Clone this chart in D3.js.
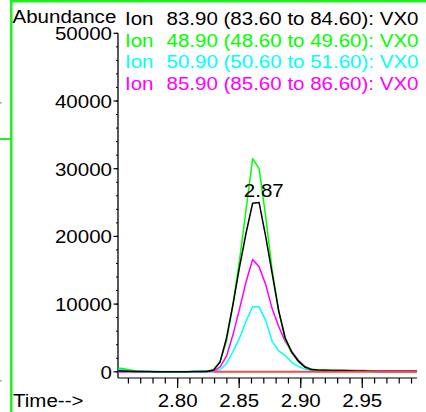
<!DOCTYPE html>
<html><head><meta charset="utf-8">
<script src="https://cdn.jsdelivr.net/npm/d3@7"></script>
<style>
html,body{margin:0;padding:0;background:#fff;overflow:hidden}
svg{display:block;font-family:"Liberation Sans",Arial,sans-serif}
</style></head>
<body>
<svg id="c" width="426" height="412"></svg>
<script>
// ---- data ----
const times = [2.7496,2.7549,2.7602,2.7655,2.7708,2.7761,2.7814,2.7867,2.7920,2.7973,
  2.8026,2.8079,2.8132,2.8185,2.8238,2.8291,2.8344,2.8397,2.8450,2.8503,
  2.8556,2.8609,2.8662,2.8715,2.8768,2.8821,2.8874,2.8927,2.8980,2.9033,
  2.9086,2.9139,2.9192,2.9245,2.9298,2.9351,2.9404,2.9457,2.9510,2.9563,
  2.9616,2.9669,2.9722,2.9775,2.9828,2.9881,2.9934,2.9987];
const ion839 = [150,120,90,60,40,30,20,20,20,20,
  20,20,30,40,60,250,1400,5000,10000,15500,
  20500,24900,25000,20000,14500,9000,5000,2900,1600,700,
  350,250,220,200,200,180,150,120,100,80,
  60,50,40,40,30,30,30,30];
const ion489 = [600,500,300,150,80,50,30,20,20,20,
  20,20,30,40,80,300,1500,4500,10000,16500,
  24000,31500,30000,23000,15000,9000,4800,2800,1500,700,
  400,280,250,230,220,200,180,150,120,100,
  80,60,50,40,40,30,30,30];
const ion509 = [350,300,200,120,80,50,40,30,30,30,
  30,40,60,120,150,150,300,1200,3000,5000,
  7500,9600,9600,7600,4500,3100,2400,1400,800,400,
  220,200,180,170,160,150,150,120,100,80,
  60,50,40,40,30,30,30,30];
const ion859 = [0,0,0,0,0,0,0,0,0,0,
  0,0,0,0,30,150,700,2300,5500,9300,
  13300,16600,15500,12900,9300,6700,4500,3000,1700,800,
  350,250,220,200,200,200,200,190,180,170,
  170,160,160,160,150,150,150,150];
const ionRed = [null,null,null,null,null,null,null,null,null,null,
  null,null,null,null,null,0,0,0,0,0,
  0,0,0,0,0,0,0,0,0,0,
  0,0,0,0,0,0,0,0,0,0,
  0,0,0,0,0,0,0,0];
const ionViolet = [0,0,0,0,0,0,0,0,0,0,
  0,0,0,0,0,0,null,null,null,null,
  null,null,null,null,null,null,null,null,null,null,
  null,null,null,null,null,null,null,null,150,150,
  150,150,150,150,150,150,150,150];
const yTicks = [0,10000,20000,30000,40000,50000];
const xTicks = [2.80,2.85,2.90,2.95];
const legend = [
  {ion:"Ion", text:"83.90 (83.60 to 84.60): VX0", color:"#000000"},
  {ion:"Ion", text:"48.90 (48.60 to 49.60): VX0", color:"#00ff00"},
  {ion:"Ion", text:"50.90 (50.60 to 51.60): VX0", color:"#00ffff"},
  {ion:"Ion", text:"85.90 (85.60 to 86.60): VX0", color:"#ff00ff"}
];
const peakLabel = {time:2.87, value:25000, text:"2.87"};

// ---- chart ----
const svg = d3.select("#c");
const FS = 19, SX = 1.08;
const x = d3.scaleLinear().domain([2.7518, 2.9942]).range([118.3, 416.7]);
const y = d3.scaleLinear().domain([0, 50000]).range([371.8, 33.3]);
const place = (px,py)=>`translate(${px},${py}) scale(${SX},1)`;

// frame decorations
svg.append("line").attr("x1",11.3).attr("x2",11.3).attr("y1",0).attr("y2",412).attr("stroke","#22ee22").attr("stroke-width",2.5);
svg.append("line").attr("x1",10).attr("x2",426).attr("y1",1.3).attr("y2",1.3).attr("stroke","#22ee22").attr("stroke-width",2.5);
svg.append("line").attr("x1",0).attr("x2",11).attr("y1",139).attr("y2",139).attr("stroke","#22ee22").attr("stroke-width",2);
svg.append("rect").attr("x",0).attr("y",102).attr("width",1.5).attr("height",1.5).attr("fill","#999");
svg.append("rect").attr("x",0).attr("y",380).attr("width",1.5).attr("height",1.5).attr("fill","#999");

// y axis
const yMinor = d3.range(0, 50001, 2000);
const ga = svg.append("g");
ga.append("line").attr("x1",118).attr("x2",118).attr("y1",y(50000)).attr("y2",378).attr("stroke","#000").attr("stroke-width",1.3);
ga.selectAll(".ymin").data(yMinor).join("line").attr("x1",116).attr("x2",118).attr("y1",d=>y(d)).attr("y2",d=>y(d)).attr("stroke","#000").attr("stroke-width",1);
ga.selectAll(".ymaj").data(yTicks).join("line").attr("x1",113.5).attr("x2",118).attr("y1",d=>y(d)).attr("y2",d=>y(d)).attr("stroke","#000").attr("stroke-width",1.2);
ga.selectAll(".ylab").data(yTicks).join("text").attr("transform",d=>place(112,y(d))).attr("dy","0.36em")
  .attr("text-anchor","end").attr("font-size",FS).text(d=>d);

// x axis
const xMinor = d3.range(2.76, 2.995, 0.01);
ga.append("line").attr("x1",118).attr("x2",417).attr("y1",378).attr("y2",378).attr("stroke","#000").attr("stroke-width",1.2);
ga.selectAll(".xmin").data(xMinor).join("line").attr("x1",d=>x(d)).attr("x2",d=>x(d)).attr("y1",378).attr("y2",383.5).attr("stroke","#000").attr("stroke-width",1.2);
ga.selectAll(".xmaj").data(xTicks).join("line").attr("x1",d=>x(d)).attr("x2",d=>x(d)).attr("y1",378).attr("y2",388).attr("stroke","#000").attr("stroke-width",1.2);
ga.selectAll(".xlab").data(xTicks).join("text").attr("transform",d=>place(x(d),406.5))
  .attr("text-anchor","middle").attr("font-size",FS).text(d=>d.toFixed(2));

svg.append("text").attr("transform",place(13,406.5)).attr("font-size",FS).text("Time-->");
svg.append("text").attr("transform",place(12.5,22.7)).attr("font-size",FS).text("Abundance");

// legend
const lg = svg.selectAll(".lg").data(legend).join("g");
lg.append("text").attr("transform",(d,i)=>place(125,25+i*21.7)).attr("font-size",FS).attr("fill",d=>d.color).text(d=>d.ion);
lg.append("text").attr("transform",(d,i)=>place(166.5,25+i*21.7)).attr("font-size",FS).attr("fill",d=>d.color).text(d=>d.text);

// series
svg.append("clipPath").attr("id","cp").append("rect").attr("x",118.3).attr("y",0).attr("width",416.7-118.3).attr("height",380);
const plot = svg.append("g").attr("clip-path","url(#cp)");
const line = d3.line().defined(d=>d[1]!==null).x(d=>x(d[0])).y(d=>y(d[1]));
const series = [
  {vals:ionViolet, color:"#9a50e0", w:1.6},
  {vals:ion509, color:"#00ffff", w:1.5},
  {vals:ion859, color:"#ff00ff", w:1.5},
  {vals:ion489, color:"#00ff00", w:1.5},
  {vals:ion839, color:"#000000", w:1.5},
  {vals:ionRed, color:"#f04c4c", w:2}
];
series.forEach(s=>{
  plot.append("path").datum(times.map((t,i)=>[t,s.vals[i]]))
    .attr("d",line).attr("fill","none").attr("stroke",s.color).attr("stroke-width",s.w).attr("stroke-linejoin","round");
});

svg.append("text").attr("transform",place(x(peakLabel.time),y(peakLabel.value)-6))
  .attr("text-anchor","middle").attr("font-size",FS).text(peakLabel.text);
</script>
</body></html>
